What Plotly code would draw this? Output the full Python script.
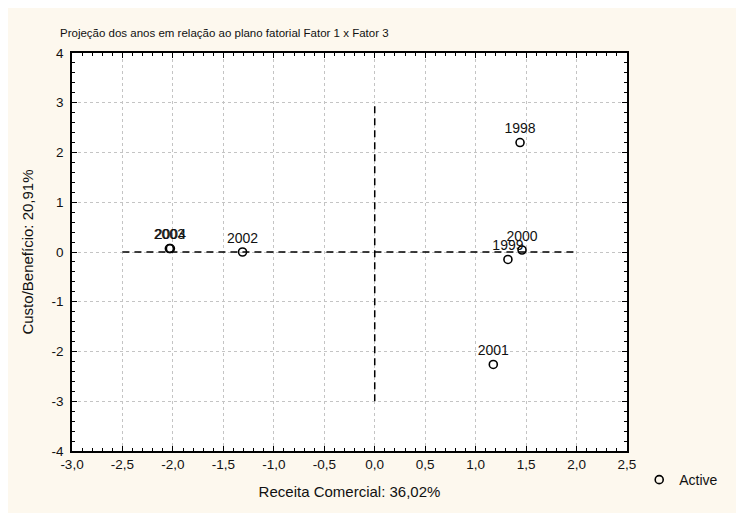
import plotly.graph_objects as go

# Data
years = ["1998", "1999", "2000", "2001", "2002", "2003", "2004"]
factor1 = [1.44, 1.32, 1.46, 1.175, -1.31, -2.035, -2.025]
factor3 = [2.20, -0.15, 0.04, -2.26, 0.0, 0.07, 0.07]

# Reference (origin) lines
h_line_x = [-2.5, 2.0]
h_line_y = [0, 0]
v_line_x = [0, 0]
v_line_y = [-3, 3]

x_ticks = [-3.0, -2.5, -2.0, -1.5, -1.0, -0.5, 0.0, 0.5, 1.0, 1.5, 2.0, 2.5]
x_tick_labels = ["-3,0", "-2,5", "-2,0", "-1,5", "-1,0", "-0,5", "0,0", "0,5", "1,0", "1,5", "2,0", "2,5"]
y_ticks = [-4, -3, -2, -1, 0, 1, 2, 3, 4]
y_tick_labels = ["-4", "-3", "-2", "-1", "0", "1", "2", "3", "4"]

title_text = "Projeção dos anos em relação ao plano fatorial Fator 1 x Fator 3"
x_title = "Receita Comercial: 36,02%"
y_title = "Custo/Benefício: 20,91%"

FONT = "Liberation Sans, Arial, sans-serif"
BG = "#FDF8EE"
TXT = "#111111"

fig = go.Figure()

dash_style = dict(color="black", width=1.5, dash="7px,5px")
fig.add_trace(go.Scatter(x=h_line_x, y=h_line_y, mode="lines", line=dash_style,
                         showlegend=False, hoverinfo="skip"))
fig.add_trace(go.Scatter(x=v_line_x, y=v_line_y, mode="lines", line=dash_style,
                         showlegend=False, hoverinfo="skip"))

fig.add_trace(go.Scatter(
    x=factor1, y=factor3, mode="markers+text", text=years,
    textposition="top center",
    textfont=dict(family=FONT, size=14, color=TXT),
    marker=dict(symbol="circle-open", size=8, color="black", line=dict(width=1.6)),
    name="Active",
))

axis_common = dict(
    showline=True, linecolor="black", linewidth=1.5, mirror="allticks",
    ticks="inside", ticklen=5, tickcolor="black", tickwidth=1,
    showgrid=True, gridcolor="#C4C4C4", griddash="dot", gridwidth=1,
    zeroline=False,
    tickfont=dict(family=FONT, size=13.5, color=TXT),
)

fig.update_xaxes(
    range=[-3.0, 2.5], tickvals=x_ticks, ticktext=x_tick_labels,
    minor=dict(ticks="inside", ticklen=3, dtick=0.1, tickcolor="black", showgrid=False),
    title=dict(text=x_title, font=dict(family=FONT, size=15, color=TXT), standoff=16),
    **axis_common,
)
fig.update_yaxes(
    range=[-4, 4], tickvals=y_ticks, ticktext=y_tick_labels,
    minor=dict(ticks="inside", ticklen=3, dtick=0.2, tickcolor="black", showgrid=False),
    title=dict(text=y_title, font=dict(family=FONT, size=15, color=TXT), standoff=14),
    ticklabelstandoff=4,
    **axis_common,
)

# The page adds an 8px body margin; the figure fills the rest of the window.
fig.update_layout(
    width=736, height=505,
    paper_bgcolor=BG, plot_bgcolor="white",
    margin=dict(l=64, r=117, t=45, b=62),
    title=dict(text=title_text, font=dict(family=FONT, size=11.5, color=TXT),
               xref="container", x=52 / 736, xanchor="left",
               yref="container", y=1 - 25 / 505, yanchor="middle"),
    legend=dict(x=1.022, y=-0.073, xanchor="left", yanchor="middle",
                bgcolor="rgba(0,0,0,0)", font=dict(family=FONT, size=14, color=TXT)),
    showlegend=True,
)

fig.write_html("out.html")
